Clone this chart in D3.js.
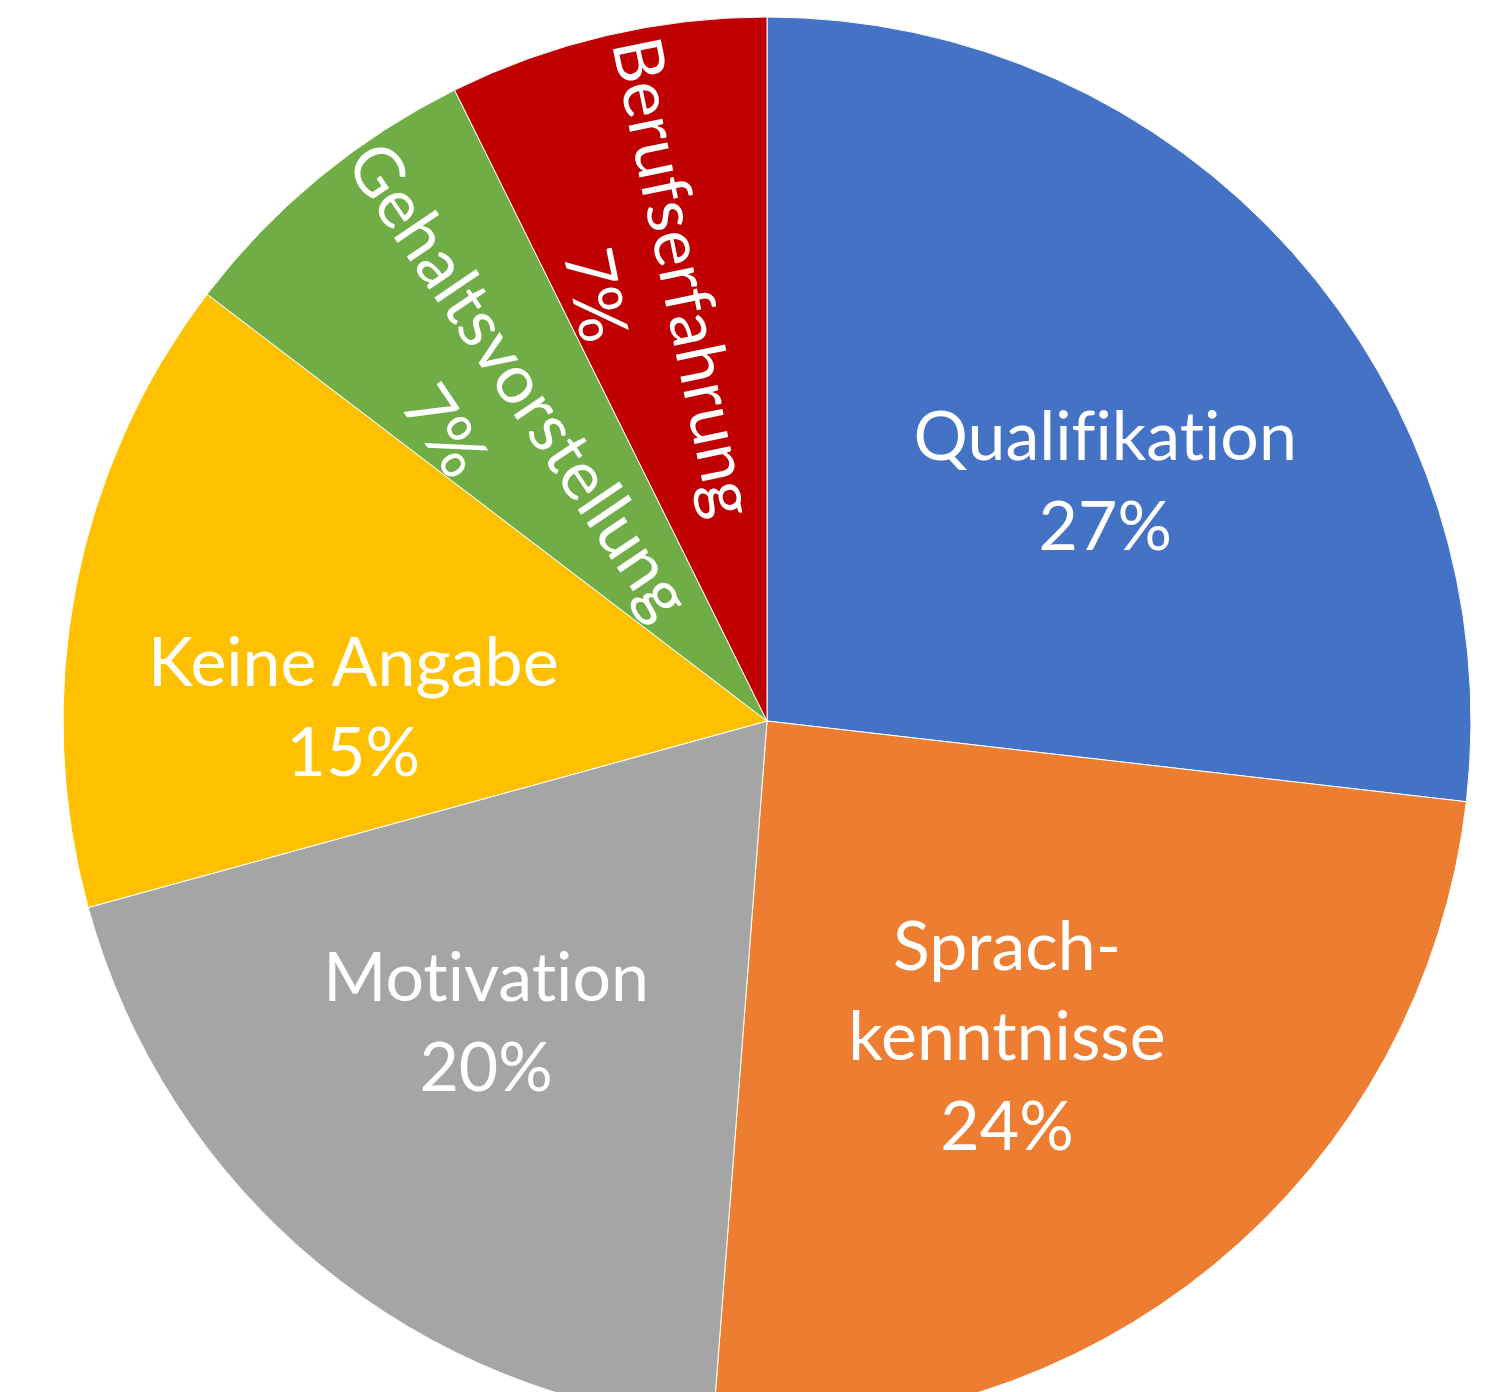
<!DOCTYPE html>
<html>
<head>
<meta charset="utf-8">
<script src="https://cdn.jsdelivr.net/npm/d3@7"></script>
<style>
  body { margin: 0; background: #fff; }
  svg { display: block; }
  .lbl { font-family: Lato, "Open Sans", sans-serif; fill: #fff; font-variant-ligatures: none; font-feature-settings: "liga" 0, "clig" 0; }
</style>
</head>
<body>
<svg id="chart"></svg>
<script>
// categories and counts (41 answers), labels show rounded percentages
var categories = ["Qualifikation", "Sprachkenntnisse", "Motivation", "Keine Angabe", "Gehaltsvorstellung", "Berufserfahrung"];
var counts = [11, 10, 8, 6, 3, 3];
var labelLines = [["Qualifikation"], ["Sprach-", "kenntnisse"], ["Motivation"], ["Keine Angabe"], ["Gehaltsvorstellung"], ["Berufserfahrung"]];
var colors = ["#4472C4", "#ED7D31", "#A5A5A5", "#FFC000", "#70AD47", "#C00000"];

// label layout: radius and angle nudge (deg) from slice middle,
// rot = extra degrees for labels that follow the radius (null = horizontal)
var labelLayout = [
  {r: 415, da: 6.3, rot: null},
  {r: 396, da: 2.2, rot: null},
  {r: 411, da: 3.6, rot: null},
  {r: 414, da: -9, rot: null},
  {r: 425, da: -2.5, rot: 5.5},
  {r: 453, da: -3, rot: 1.5}
];

var width = 1505, height = 1392,
    cx = 767, cy = 721, radius = 704,
    fontSize = 68, lineH = 90;

var svg = d3.select("#chart")
    .attr("width", width)
    .attr("height", height);

var g = svg.append("g")
    .attr("transform", "translate(" + cx + "," + cy + ")");

var pie = d3.pie().sort(null).value(function (d) { return d; });
var arcs = pie(counts);
var total = d3.sum(counts);

var arc = d3.arc().innerRadius(0).outerRadius(radius);

// slices
g.selectAll("path.slice")
    .data(arcs)
    .enter().append("path")
    .attr("class", "slice")
    .attr("d", arc)
    .style("fill", function (d, i) { return colors[i]; })
    .style("stroke", "#fff")
    .style("stroke-width", 1);

// labels
arcs.forEach(function (d, i) {
    var lay = labelLayout[i];
    var sliceMid = (d.startAngle + d.endAngle) / 2;
    var mid = sliceMid + lay.da * Math.PI / 180;
    var x = Math.sin(mid) * lay.r,
        y = -Math.cos(mid) * lay.r;
    var rot = lay.rot === null ? 0 : (sliceMid * 180 / Math.PI - 270 + lay.rot);
    var lines = labelLines[i].concat([Math.round(d.value / total * 100) + "%"]);
    var n = lines.length;

    var t = g.append("text")
        .attr("class", "lbl")
        .attr("text-anchor", "middle")
        .style("font-size", fontSize + "px")
        .attr("transform", "translate(" + x + "," + y + ") rotate(" + rot + ")");

    lines.forEach(function (s, k) {
        t.append("tspan")
            .attr("x", 0)
            .attr("y", (k - (n - 1) / 2) * lineH + fontSize * 0.36)
            .text(s);
    });
});
</script>
</body>
</html>
